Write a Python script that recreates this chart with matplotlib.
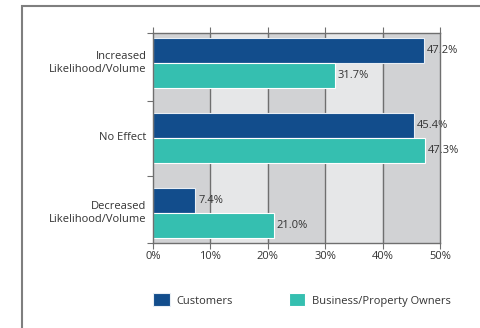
import numpy as np
import matplotlib.pyplot as plt
from matplotlib.patches import Rectangle

categories = ['Increased\nLikelihood/Volume', 'No Effect', 'Decreased\nLikelihood/Volume']
customers = [47.2, 45.4, 7.4]
owners = [31.7, 47.3, 21.0]
series_names = ['Customers', 'Business/Property Owners']
xticks = [0, 10, 20, 30, 40, 50]

blue = '#124d8c'
teal = '#35bfb0'
dark_band = '#d1d2d4'
light_band = '#e6e7e8'
line_gray = '#6f6f6f'
txt = '#333333'

plt.rcParams['font.family'] = ['Open Sans', 'DejaVu Sans']

fig = plt.figure(figsize=(4.8, 3.28), dpi=100)
fig.patch.set_facecolor('white')

# outer frame (cropped on right and bottom)
fig.patches.append(Rectangle((22 / 480, -0.1), 1.0, 1 - 6 / 328 + 0.1,
                             transform=fig.transFigure, fill=False,
                             edgecolor='#7f7f7f', linewidth=1.5))

ax = fig.add_axes([153 / 480, 1 - 243 / 328, (440 - 153) / 480, (243 - 33) / 328])

# alternating column bands
for i in range(len(xticks) - 1):
    ax.axvspan(xticks[i], xticks[i + 1], color=dark_band if i % 2 == 0 else light_band, zorder=0)
for x in xticks[1:-1]:
    ax.axvline(x, color=line_gray, lw=1, zorder=1)

y = np.arange(len(categories))
h = 1 / 3
ax.barh(y - h / 2, customers, height=h, color=blue, edgecolor='#e8eef4', linewidth=0.8,
        label=series_names[0], zorder=2)
ax.barh(y + h / 2, owners, height=h, color=teal, edgecolor='white', linewidth=0.8,
        label=series_names[1], zorder=2)

fs = 8
for yy, v in zip(y - h / 2, customers):
    ax.text(v + 0.5, yy, f'{v:.1f}%', va='center', ha='left', fontsize=fs, color=txt, zorder=3)
for yy, v in zip(y + h / 2, owners):
    ax.text(v + 0.5, yy, f'{v:.1f}%', va='center', ha='left', fontsize=fs, color=txt, zorder=3)

ax.set_xlim(0, 50)
ax.set_ylim(2.4, -0.4)

ax.set_xticks(xticks)
ax.set_xticklabels([f'{t}%' for t in xticks], fontsize=fs, color=txt)
ax.tick_params(axis='x', which='both', top=True, bottom=True, direction='out',
               length=4, color=line_gray, pad=2)

ax.set_yticks([-0.4, 0.5, 1.5, 2.4])
ax.set_yticklabels([])
ax.tick_params(axis='y', length=4, color=line_gray)
for yy, lab in zip(y, categories):
    ax.text(-1.1, yy, lab, ha='right', va='center', fontsize=fs, color=txt,
            linespacing=1.3)

for s in ax.spines.values():
    s.set_color(line_gray)
    s.set_linewidth(1)
    s.set_zorder(4)

fig.legend(loc='center', bbox_to_anchor=(302 / 480, 1 - 300 / 328), ncol=2,
           frameon=False, fontsize=fs, handlelength=1.5, handleheight=1.4,
           columnspacing=5, handletextpad=0.6, labelcolor=txt)

fig.savefig('out.png', dpi=100)
